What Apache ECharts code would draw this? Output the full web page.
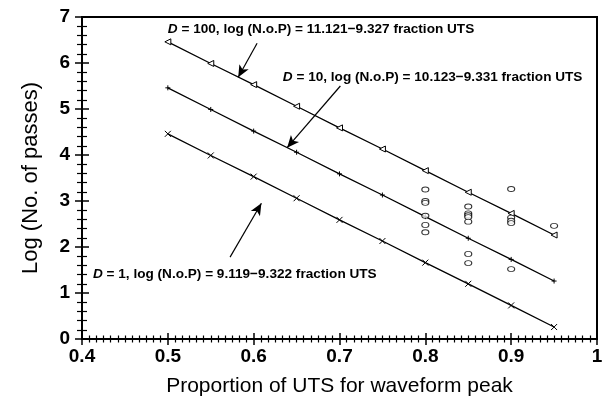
<!DOCTYPE html>
<html>
<head>
<meta charset="utf-8">
<script src="https://cdn.jsdelivr.net/npm/echarts@6/dist/echarts.min.js"></script>
<style>
  html, body { margin: 0; padding: 0; background: #fff; }
  #chart { width: 607px; height: 406px; }
</style>
</head>
<body>
<div id="chart"></div>
<script>
// Waveform peak as a proportion of UTS (x) for the fitted lines
const utsFraction = [0.5, 0.55, 0.6, 0.65, 0.7, 0.75, 0.8, 0.85, 0.9, 0.95];
// log(N.o.P) on each fitted line
const logPassesD100 = [6.46, 5.99, 5.53, 5.06, 4.59, 4.13, 3.66, 3.19, 2.73, 2.26];
const logPassesD10 = [5.46, 4.99, 4.52, 4.06, 3.59, 3.13, 2.66, 2.19, 1.73, 1.26];
const logPassesD1 = [4.46, 3.99, 3.53, 3.06, 2.59, 2.13, 1.66, 1.20, 0.73, 0.26];
// Measured results
const measuredFraction = [0.8, 0.8, 0.8, 0.8, 0.8, 0.8,
  0.85, 0.85, 0.85, 0.85, 0.85, 0.85, 0.85,
  0.9, 0.9, 0.9, 0.9, 0.9, 0.95];
const measuredLogPasses = [3.25, 3.00, 2.96, 2.68, 2.48, 2.32,
  2.88, 2.73, 2.69, 2.65, 2.55, 1.85, 1.65,
  3.26, 2.64, 2.57, 2.52, 1.52, 2.46];
// Axis ticks
const xTickValues = [0.4, 0.5, 0.6, 0.7, 0.8, 0.9, 1];
const yTickValues = [0, 1, 2, 3, 4, 5, 6, 7];
// Fit equations shown beside each line
const eqD100 = '{i|D} = 100, log (N.o.P) = 11.121\u22129.327 fraction UTS';
const eqD10 = '{i|D} = 10, log (N.o.P) = 10.123\u22129.331 fraction UTS';
const eqD1 = '{i|D} = 1, log (N.o.P) = 9.119\u22129.322 fraction UTS';

const pairs = (xs, ys) => xs.map((x, i) => [x, ys[i]]);

const FONT = 'Liberation Sans, Arial, Helvetica, sans-serif';
const ANN_SIZE = 13.6;
const annLabel = (text) => ({
  show: true,
  position: 'right',
  distance: 0,
  formatter: text,
  color: '#000',
  fontFamily: FONT,
  fontWeight: 'bold',
  fontSize: ANN_SIZE,
  rich: { i: { fontStyle: 'italic', fontWeight: 'bold', fontSize: ANN_SIZE, fontFamily: FONT, color: '#000' } }
});
const arrow = (from, to) => ({
  silent: true,
  symbol: ['none', 'arrow'],
  symbolSize: [8, 12],
  label: { show: false },
  lineStyle: { color: '#000', width: 1.2, type: 'solid' },
  emphasis: { disabled: true },
  data: [[{ coord: from }, { coord: to }]]
});
const note = (at, text) => ({
  symbol: 'circle',
  symbolSize: 0,
  silent: true,
  data: [{ coord: at, label: annLabel(text) }]
});

const fmtX = v => (Math.abs(v - 1) < 1e-9 ? '1' : v.toFixed(1));
const labelStyle = { color: '#000', fontFamily: FONT, fontWeight: 'bold', fontSize: 19 };

const xBase = {
  type: 'value', min: 0.4, max: 1, interval: 0.1, position: 'bottom',
  splitLine: { show: false }
};
const yBase = {
  type: 'value', min: 0, max: 7, interval: 1, position: 'left',
  splitLine: { show: false }
};

const chart = echarts.init(document.getElementById('chart'), null, { renderer: 'canvas' });
chart.setOption({
  animation: false,
  backgroundColor: '#fff',
  grid: { left: 82, right: 10, top: 17, bottom: 67, show: true, borderColor: '#000', borderWidth: 2, backgroundColor: 'transparent' },
  xAxis: [
    Object.assign({}, xBase, {
      name: 'Proportion of UTS for waveform peak',
      nameLocation: 'middle',
      nameGap: 37,
      nameTextStyle: { color: '#000', fontFamily: FONT, fontSize: 21 },
      axisLine: { show: true, lineStyle: { color: '#000', width: 2 } },
      axisTick: { show: true, inside: false, length: 6, lineStyle: { color: '#000', width: 1.5 } },
      minorTick: { show: true, splitNumber: 12, length: 3.5, lineStyle: { color: '#000', width: 1.2 } },
      axisLabel: Object.assign({ margin: 8, formatter: fmtX,
        customValues: xTickValues }, labelStyle)
    }),
    Object.assign({}, xBase, {
      axisLine: { show: false },
      axisTick: { show: true, inside: true, length: 6, lineStyle: { color: '#000', width: 1.5 } },
      minorTick: { show: true, splitNumber: 12, length: 3.5, lineStyle: { color: '#000', width: 1.2 } },
      axisLabel: { show: false }
    })
  ],
  yAxis: [
    Object.assign({}, yBase, {
      name: 'Log (No. of passes)',
      nameLocation: 'middle',
      nameGap: 40,
      nameTextStyle: { color: '#000', fontFamily: FONT, fontSize: 22 },
      axisLine: { show: true, lineStyle: { color: '#000', width: 2 } },
      axisTick: { show: true, inside: false, length: 7, lineStyle: { color: '#000', width: 1.5 } },
      minorTick: { show: true, splitNumber: 5, length: 5, lineStyle: { color: '#000', width: 1.2 } },
      axisLabel: Object.assign({ margin: 12, formatter: v => String(v), customValues: yTickValues }, labelStyle)
    }),
    Object.assign({}, yBase, {
      axisLine: { show: false },
      axisTick: { show: true, inside: true, length: 7, lineStyle: { color: '#000', width: 1.5 } },
      minorTick: { show: true, splitNumber: 5, length: 5, lineStyle: { color: '#000', width: 1.2 } },
      axisLabel: { show: false }
    })
  ],
  series: [
    {
      name: 'D = 100',
      type: 'line',
      data: pairs(utsFraction, logPassesD100),
      symbol: 'triangle',
      symbolRotate: 90,
      symbolSize: 6,
      showAllSymbol: true,
      lineStyle: { color: '#000', width: 1.3 },
      itemStyle: { color: '#fff', borderColor: '#000', borderWidth: 1 },
      markLine: arrow([0.604, 6.43], [0.582, 5.69]),
      markPoint: note([0.5, 6.74], eqD100),
      z: 3
    },
    {
      name: 'D = 10',
      type: 'line',
      data: pairs(utsFraction, logPassesD10),
      symbol: 'path://M0,5L10,5M5,0L5,10',
      symbolSize: 5,
      showAllSymbol: true,
      lineStyle: { color: '#000', width: 1.3 },
      itemStyle: { color: 'transparent', borderColor: '#000', borderWidth: 1 },
      markLine: arrow([0.701, 5.5], [0.639, 4.16]),
      markPoint: note([0.634, 5.7], eqD10),
      z: 3
    },
    {
      name: 'D = 1',
      type: 'line',
      data: pairs(utsFraction, logPassesD1),
      symbol: 'path://M0,0L10,10M10,0L0,10',
      symbolSize: 6,
      showAllSymbol: true,
      lineStyle: { color: '#000', width: 1.3 },
      itemStyle: { color: 'transparent', borderColor: '#000', borderWidth: 1 },
      markLine: arrow([0.5725, 1.78], [0.609, 2.95]),
      markPoint: note([0.4128, 1.41], eqD1),
      z: 3
    },
    {
      name: 'Measured',
      type: 'scatter',
      data: pairs(measuredFraction, measuredLogPasses),
      symbol: 'circle',
      symbolSize: [7, 5],
      itemStyle: { color: '#fff', borderColor: '#000', borderWidth: 1 },
      z: 4
    }
  ]
});
</script>
</body>
</html>
